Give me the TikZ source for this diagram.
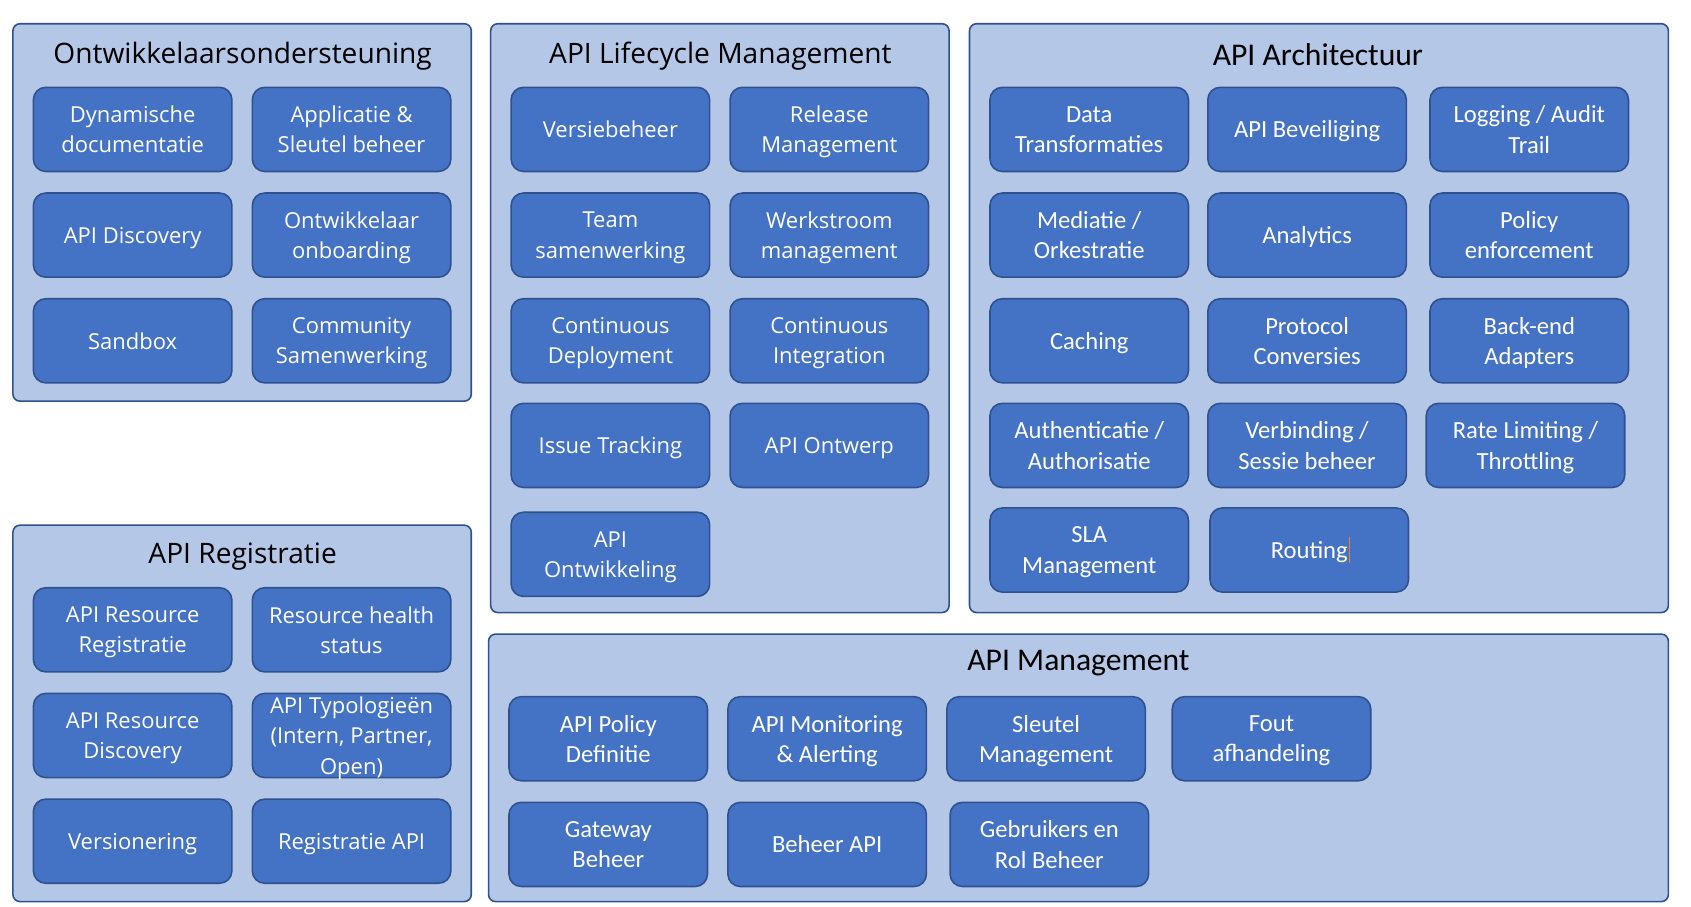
\documentclass[tikz,border=0pt]{standalone}
\usepackage{fontspec}
\setmainfont{Open Sans}
\newfontfamily\calibri{Carlito}
\definecolor{randblauw}{HTML}{2F528F}
\definecolor{lichtblauw}{HTML}{B4C7E7}
\definecolor{blokblauw}{HTML}{4472C4}
\definecolor{cursororanje}{HTML}{ED7D31}
\newcommand{\blokfont}{\fontsize{12.5}{17.2}\selectfont}
\newcommand{\blokfontc}{\calibri\fontsize{14}{17.2}\selectfont}
\tikzset{
  groep/.style={draw=randblauw, fill=lichtblauw, line width=0.9pt, rounded corners=4pt},
  blok/.style={draw=randblauw, fill=blokblauw, line width=0.9pt, rounded corners=7pt,
    minimum width=3.968cm, minimum height=1.682cm, inner sep=0pt, align=center,
    text=white, font=\blokfont, text depth=0pt},
  blokc/.style={blok, font=\blokfontc},
  kop/.style={font=\fontsize{16}{19}\selectfont},
  kopc/.style={font=\calibri\fontsize{18}{21}\selectfont}
}

\begin{document}
\begin{tikzpicture}[x=0.021568cm, y=-0.021568cm]
\useasboundingbox (0,0) rectangle (1568,841);

% groepen
\draw[groep] (12,22) rectangle (437,372);
\draw[groep] (455,22) rectangle (880,568);
\draw[groep] (899,22) rectangle (1547,568);
\draw[groep] (12,487) rectangle (437,836);
\draw[groep] (453,588) rectangle (1547,836);

% Ontwikkelaarsondersteuning
\node[kop] (kopontw) at (225,52) {Ontwikkelaarsondersteuning};
\node[blok] (dyndoc) at (123,120) {Dynamische\\documentatie};
\node[blok] (appsleutel) at (326,120) {Applicatie \&\\Sleutel beheer};
\node[blok] (discovery) at (123,218) {API Discovery};
\node[blok] (onboarding) at (326,218) {Ontwikkelaar\\onboarding};
\node[blok] (sandbox) at (123,316) {Sandbox};
\node[blok] (community) at (326,316) {Community\\Samenwerking};

% API Lifecycle Management
\node[kop] (koplifecycle) at (668,52) {API Lifecycle Management};
\node[blok] (versie) at (566,120) {Versiebeheer};
\node[blok] (release) at (769,120) {Release\\Management};
\node[blok] (team) at (566,218) {Team\\samenwerking};
\node[blok] (werkstroom) at (769,218) {Werkstroom\\management};
\node[blok] (cdeploy) at (566,316) {Continuous\\Deployment};
\node[blok] (cinteg) at (769,316) {Continuous\\Integration};
\node[blok] (issue) at (566,413) {Issue Tracking};
\node[blok] (ontwerp) at (769,413) {API Ontwerp};
\node[blok] (ontwikkeling) at (566,514) {API\\Ontwikkeling};

% API Architectuur
\node[kopc] (koparch) at (1222,51) {API Architectuur};
\node[blokc] (datatrans) at (1010,120) {Data\\Transformaties};
\node[blokc] (beveiliging) at (1212,120) {API Beveiliging};
\node[blokc] (logging) at (1418,120) {Logging / Audit\\Trail};
\node[blokc] (mediatie) at (1010,218) {Mediatie /\\Orkestratie};
\node[blokc] (analytics) at (1212,218) {Analytics};
\node[blokc] (policy) at (1418,218) {Policy\\enforcement};
\node[blokc] (caching) at (1010,316) {Caching};
\node[blokc] (protocol) at (1212,316) {Protocol\\Conversies};
\node[blokc] (backend) at (1418,316) {Back-end\\Adapters};
\node[blokc] (authn) at (1010,413) {Authenticatie /\\Authorisatie};
\node[blokc] (verbinding) at (1212,413) {Verbinding /\\Sessie beheer};
\node[blokc] (ratelimit) at (1414.5,413) {Rate Limiting /\\Throttling};
\node[blokc] (sla) at (1010,510) {SLA\\Management};
\node[blokc] (routing) at (1214,510) {Routing};
\draw[cursororanje, line width=0.6pt] (1251,498) -- (1251,522);

% API Registratie
\node[kop] (kopreg) at (225,516) {API Registratie};
\node[blok] (resreg) at (123,584) {API Resource\\Registratie};
\node[blok] (health) at (326,584) {Resource health\\status};
\node[blok] (resdisc) at (123,682) {API Resource\\Discovery};
\node[blok] (typologie) at (326,682) {API Typologieën\\(Intern, Partner,\\Open)};
\node[blok] (versionering) at (123,780) {Versionering};
\node[blok] (regapi) at (326,780) {Registratie API};

% API Management
\node[kopc] (kopmgmt) at (1000,615) {API Management};
\node[blokc] (policydef) at (564,685) {API Policy\\Definitie};
\node[blokc] (monitoring) at (767,685) {API Monitoring\\\& Alerting};
\node[blokc] (sleutel) at (970,685) {Sleutel\\Management};
\node[blokc] (fout) at (1179,685) {Fout\\afhandeling};
\node[blokc] (gateway) at (564,783) {Gateway\\Beheer};
\node[blokc] (beheerapi) at (767,783) {Beheer API};
\node[blokc] (gebruikers) at (973,783) {Gebruikers en\\Rol Beheer};
\end{tikzpicture}
\end{document}
